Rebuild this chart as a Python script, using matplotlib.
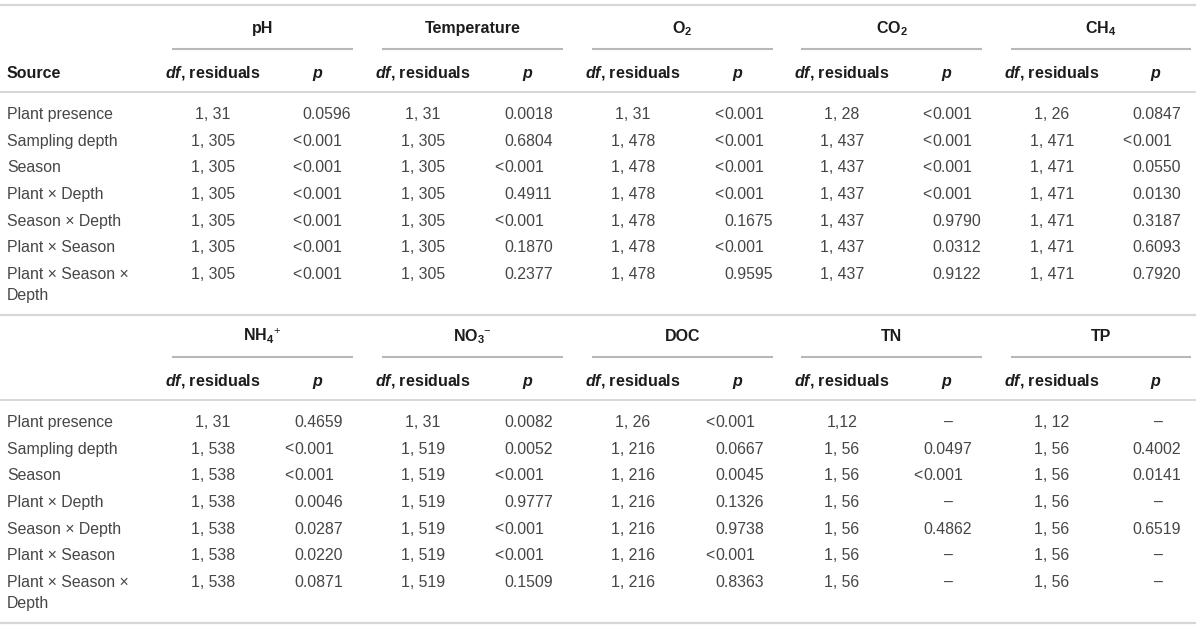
import matplotlib.pyplot as plt

plt.rcParams['font.family'] = ['Liberation Sans', 'DejaVu Sans']
plt.rcParams['mathtext.fontset'] = 'custom'
plt.rcParams['mathtext.rm'] = 'Liberation Sans'
plt.rcParams['mathtext.it'] = 'Liberation Sans:italic'
plt.rcParams['mathtext.bf'] = 'Liberation Sans:bold'
plt.rcParams['mathtext.bfit'] = 'Liberation Sans:italic:bold'

# ---- data ----
sources = ["Plant presence", "Sampling depth", "Season", "Plant \u00d7 Depth",
           "Season \u00d7 Depth", "Plant \u00d7 Season", "Plant \u00d7 Season \u00d7\nDepth"]

top_vars = ["pH", "Temperature", r"O$_\mathbf{2}$", r"CO$_\mathbf{2}$", r"CH$_\mathbf{4}$"]
bottom_vars = [r"NH$_\mathbf{4}{}^{+}$", r"NO$_\mathbf{3}{}^{-}$", "DOC", "TN", "TP"]

ph_df = ["1, 31", "1, 305", "1, 305", "1, 305", "1, 305", "1, 305", "1, 305"]
ph_p = ["0.0596", "<0.001", "<0.001", "<0.001", "<0.001", "<0.001", "<0.001"]
temp_df = ["1, 31", "1, 305", "1, 305", "1, 305", "1, 305", "1, 305", "1, 305"]
temp_p = ["0.0018", "0.6804", "<0.001", "0.4911", "<0.001", "0.1870", "0.2377"]
o2_df = ["1, 31", "1, 478", "1, 478", "1, 478", "1, 478", "1, 478", "1, 478"]
o2_p = ["<0.001", "<0.001", "<0.001", "<0.001", "0.1675", "<0.001", "0.9595"]
co2_df = ["1, 28", "1, 437", "1, 437", "1, 437", "1, 437", "1, 437", "1, 437"]
co2_p = ["<0.001", "<0.001", "<0.001", "<0.001", "0.9790", "0.0312", "0.9122"]
ch4_df = ["1, 26", "1, 471", "1, 471", "1, 471", "1, 471", "1, 471", "1, 471"]
ch4_p = ["0.0847", "<0.001", "0.0550", "0.0130", "0.3187", "0.6093", "0.7920"]

nh4_df = ["1, 31", "1, 538", "1, 538", "1, 538", "1, 538", "1, 538", "1, 538"]
nh4_p = ["0.4659", "<0.001", "<0.001", "0.0046", "0.0287", "0.0220", "0.0871"]
no3_df = ["1, 31", "1, 519", "1, 519", "1, 519", "1, 519", "1, 519", "1, 519"]
no3_p = ["0.0082", "0.0052", "<0.001", "0.9777", "<0.001", "<0.001", "0.1509"]
doc_df = ["1, 26", "1, 216", "1, 216", "1, 216", "1, 216", "1, 216", "1, 216"]
doc_p = ["<0.001", "0.0667", "0.0045", "0.1326", "0.9738", "<0.001", "0.8363"]
tn_df = ["1,12", "1, 56", "1, 56", "1, 56", "1, 56", "1, 56", "1, 56"]
tn_p = ["\u2013", "0.0497", "<0.001", "\u2013", "0.4862", "\u2013", "\u2013"]
tp_df = ["1, 12", "1, 56", "1, 56", "1, 56", "1, 56", "1, 56", "1, 56"]
tp_p = ["\u2013", "0.4002", "0.0141", "\u2013", "0.6519", "\u2013", "\u2013"]

top_df = [ph_df, temp_df, o2_df, co2_df, ch4_df]
top_p = [ph_p, temp_p, o2_p, co2_p, ch4_p]
bottom_df = [nh4_df, no3_df, doc_df, tn_df, tp_df]
bottom_p = [nh4_p, no3_p, doc_p, tn_p, tp_p]

# ---- layout (pixels) ----
df_x = [213, 423, 633, 842, 1052]
p_x = [317, 527, 737, 946, 1155]
top_shift = [-15, -23, -13, -14, -23]
bottom_shift = [-23, -23, -22, -23, -23]
block_offset = 308

TXT = '#464646'
HEAD = '#1c1c1c'
FS = 11.4
HFS = 11.5


def draw_block(ax, y0, names, dfs, ps, shifts):
    # header
    for i, name in enumerate(names):
        x1, x2 = df_x[i] - 41, p_x[i] + 36
        ax.text((x1 + x2) / 2, y0 + 33, name, ha='center', va='baseline',
                fontsize=HFS, fontweight='bold', color=HEAD)
        ax.plot([x1, x2], [y0 + 49, y0 + 49], color='#b8b8b8', lw=1.5,
                solid_capstyle='butt')
        ax.text(df_x[i], y0 + 78, r'$\mathbfit{df}$, residuals', ha='center',
                va='baseline', fontsize=HFS, fontweight='bold', color=HEAD)
        ax.text(p_x[i], y0 + 78, 'p', ha='center', va='baseline',
                fontsize=HFS, fontweight='bold', style='italic', color=HEAD)
    ax.plot([0, 1195], [y0 + 92, y0 + 92], color='#d6d6d6', lw=1.4)
    ax.plot([0, 1195], [y0 + 315, y0 + 315], color='#d6d6d6', lw=1.6)

    # rows
    for r, src in enumerate(sources):
        yb = y0 + 113 + r * 26.67 + 6
        lines = src.split('\n')
        for k, ln in enumerate(lines):
            ax.text(7, yb + k * 21, ln, ha='left', va='baseline',
                    fontsize=FS, color=TXT)
        for i in range(len(names)):
            ax.text(df_x[i], yb, dfs[i][r], ha='center', va='baseline',
                    fontsize=FS, color=TXT)
            val = ps[i][r]
            left = p_x[i] + shifts[i]
            if val.startswith('<'):
                ax.text(left - 0.5, yb, '<', ha='right', va='baseline',
                        fontsize=FS, color=TXT)
                ax.text(left, yb, val[1:], ha='left', va='baseline',
                        fontsize=FS, color=TXT)
            elif val == '\u2013':
                ax.text(p_x[i] + 3, yb, val, ha='center', va='baseline',
                        fontsize=FS, color=TXT)
            else:
                ax.text(left, yb, val, ha='left', va='baseline',
                        fontsize=FS, color=TXT)


fig = plt.figure(figsize=(12, 6.3), dpi=100)
ax = fig.add_axes([0, 0, 1, 1])
ax.set_xlim(0, 1200)
ax.set_ylim(630, 0)
ax.axis('off')

ax.plot([0, 1195], [5, 5], color='#d6d6d6', lw=1.6)
ax.text(7, 78, 'Source', ha='left', va='baseline', fontsize=HFS,
        fontweight='bold', color=HEAD)

draw_block(ax, 0, top_vars, top_df, top_p, top_shift)
draw_block(ax, block_offset, bottom_vars, bottom_df, bottom_p, bottom_shift)

fig.savefig('out.png', dpi=100)
